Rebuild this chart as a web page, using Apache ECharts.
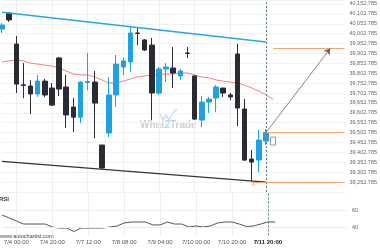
<!DOCTYPE html>
<html><head><meta charset="utf-8">
<script src="https://cdn.jsdelivr.net/npm/echarts@6.0.0/dist/echarts.min.js"></script>
<style>html,body{margin:0;padding:0;background:#fff}#c{width:380px;height:250px}</style>
</head><body><div id="c"></div>
<script>
const categories = ["7/3 16:00","7/3 20:00","7/4 00:00","7/4 04:00","7/4 08:00","7/4 12:00","7/4 16:00","7/4 20:00",
"7/5 00:00","7/5 04:00","7/7 04:00","7/7 08:00","7/7 12:00","7/7 16:00","7/7 20:00","7/8 00:00","7/8 04:00","7/8 08:00",
"7/8 12:00","7/8 16:00","7/8 20:00","7/9 00:00","7/9 04:00","7/9 08:00","7/9 12:00","7/9 16:00","7/9 20:00","7/10 00:00",
"7/10 04:00","7/10 08:00","7/10 12:00","7/10 16:00","7/10 20:00","7/11 04:00","7/11 08:00","7/11 12:00","7/11 16:00","7/11 20:00",
"7/12 00:00","7/12 04:00","7/12 08:00","7/12 12:00","7/12 16:00","7/12 20:00","7/15 00:00","7/15 04:00","7/15 08:00","7/15 12:00","7/15 16:00"];
const shownLabels = [2,7,12,17,22,27,32,37];
const currentIndex = 37;
const opens  = [40026,40107,39950,39744,39738,39698,39763,39728,39880,39733,39632,39581,39756,39758,39440,39501,39693,39834,39860,40006,39971,39945,39703,39824,39829,39789,39905,39789,39566,39657,39678,39728,39693,39900,39622,39369,39364,39460];
const closes = [40046,40072,39748,39741,39698,39763,39693,39642,39723,39592,39581,39758,39761,39652,39324,39693,39849,39865,40006,40004,39920,39703,39824,39834,39804,39814,39903,39571,39657,39672,39733,39703,39683,39627,39364,39354,39465,39502.785];
const lows   = [40006,40062,39703,39677,39597,39683,39683,39637,39688,39526,39506,39551,39718,39475,39319,39480,39632,39794,39809,39945,39915,39566,39693,39758,39728,39768,39880,39566,39531,39602,39607,39683,39667,39536,39359,39258,39303,39440];
const highs  = [40057,40112,39991,39854,39768,39794,39774,39753,39885,39794,39678,39763,39905,39814,39440,39784,39895,39880,40036,40031,39976,39981,39834,39854,39935,39824,39935,39794,39688,39683,39743,39728,39703,39951,39672,39415,39516,39521];
const projected = {index: 38, open: 39480, close: 39440, low: 39440, high: 39480};
const maValues = [39860,39865,39870,39865,39854,39849,39844,39839,39829,39814,39799,39794,39794,39784,39769,39753,39753,39763,39774,39784,39789,39794,39794,39799,39799,39804,39804,39794,39784,39779,39769,39763,39758,39753,39743,39728,39713,39693,39672];
const rsiValues = [54.1,50.6,47.1,43.5,43.5,43.5,43.5,40.0,38.8,38.8,34.7,38.8,38.8,38.8,38.8,40.0,41.2,44.7,45.9,45.9,45.9,42.4,42.4,45.9,43.5,43.5,40.0,41.2,40.0,41.2,44.7,45.9,45.9,43.5,40.6,41.2,43.5,45.9,45.9];
const upperTrend = [[0,40111],[37,39961]];
const lowerTrend = [[0,39358],[37,39253]];
const targetLevel = 39928, lastClose = 39502.785, supportLevel = 39252.785;
const targetIndex = 46, lastCatIndex = 48;
const rsiLevels = [40, 60];

const candleData = opens.map((o,i)=>[o, closes[i], lows[i], highs[i]]);
const projData = categories.map((c,i)=> i===projected.index ? [projected.open,projected.close,projected.low,projected.high] : '-');
const fmtPrice = v => {
  const s = Math.round((v - 2.785)/50)*50 + 2.785;
  return s.toLocaleString('en-US',{minimumFractionDigits:3,maximumFractionDigits:3});
};
const labelFn = (i) => shownLabels.indexOf(i) >= 0;
const chart = echarts.init(document.getElementById('c'), null, {renderer:'canvas'});
const orange = '#f7a26a';
chart.setOption({
  animation:false,
  backgroundColor:'#fff',
  grid:[{left:2,right:33,top:0,height:192},{left:2,right:33,top:193,height:42.5}],
  xAxis:[
    {type:'category',gridIndex:0,data:categories,boundaryGap:false,axisLine:{show:false},axisTick:{show:false},axisLabel:{show:false},
     splitLine:{show:true,interval:labelFn,lineStyle:{color:'#eeeeee',width:1}}},
    {type:'category',gridIndex:1,data:categories,boundaryGap:false,axisLine:{show:false},axisTick:{show:false},
     axisLabel:{show:true,interval:labelFn,fontSize:6,color:'#555',margin:4,fontFamily:'Liberation Sans, Arial',
       formatter:(v,i)=> i===currentIndex ? '{b|'+v+'}' : v,
       rich:{b:{fontWeight:'bold',color:'#222',fontSize:6,fontFamily:'Liberation Sans, Arial'}}},
     splitLine:{show:true,interval:labelFn,lineStyle:{color:'#eeeeee',width:1}}}
  ],
  yAxis:[
    {type:'value',gridIndex:0,position:'right',min:39202.785,max:40172.785,interval:50,
     axisLine:{show:false},axisTick:{show:false},
     axisLabel:{fontSize:5.5,color:'#666',margin:5,formatter:fmtPrice,showMinLabel:false,showMaxLabel:false,fontFamily:'Liberation Sans, Arial'},
     splitLine:{show:true,lineStyle:{color:'#f1f1f1',width:1}}},
    {type:'value',gridIndex:1,position:'right',min:30,max:80,interval:10,
     axisLine:{show:false},axisTick:{show:false},
     axisLabel:{fontSize:5.5,color:'#666',margin:5,fontFamily:'Liberation Sans, Arial',formatter:v=> rsiLevels.indexOf(v)>=0 ? String(v) : ''},
     splitLine:{show:false}}
  ],
  series:[
    {type:'line',xAxisIndex:0,yAxisIndex:0,data:maValues,showSymbol:false,symbol:'none',lineStyle:{color:'#f26b6b',width:1,opacity:0.85},z:1},
    {type:'candlestick',xAxisIndex:0,yAxisIndex:0,data:candleData,barWidth:5,z:3,
     itemStyle:{color:'#1fa2df',color0:'#2b2b33',borderColor:'#1fa2df',borderColor0:'#2b2b33',borderWidth:1},
     markLine:{silent:true,animation:false,symbol:'none',label:{show:false},
       data:[
         [{coord:upperTrend[0],lineStyle:{color:'#2aa8e0',width:1.5,type:'solid'}},{coord:upperTrend[1]}],
         [{coord:lowerTrend[0],lineStyle:{color:'#333',width:1.3,type:'solid'}},{coord:lowerTrend[1]}],
         [{coord:[38,targetLevel],lineStyle:{color:orange,width:1,type:'solid'}},{coord:[lastCatIndex,targetLevel]}],
         [{coord:[currentIndex,lastClose],lineStyle:{color:orange,width:1,type:'solid'}},{coord:[lastCatIndex,lastClose]}],
         [{coord:[35,supportLevel],lineStyle:{color:orange,width:1,type:'solid'}},{coord:[lastCatIndex,supportLevel]}],
         [{coord:[currentIndex,lastClose],symbol:'none',lineStyle:{color:'#666',width:0.8,type:'solid'}},{coord:[targetIndex,targetLevel],symbol:'arrow',symbolSize:6}],
         {xAxis:currentIndex,lineStyle:{color:'#5d7f88',width:1,type:[2,2]}}
       ]}},
    {type:'candlestick',xAxisIndex:0,yAxisIndex:0,data:projData,barWidth:5,z:3,
     itemStyle:{color:'#fff',color0:'#fff',borderColor:'#999',borderColor0:'#999',borderWidth:1}},
    {type:'line',xAxisIndex:1,yAxisIndex:1,data:rsiValues,showSymbol:false,symbol:'none',lineStyle:{color:'#555',width:1},
     markLine:{silent:true,animation:false,symbol:'none',label:{show:false},
       data:[
         {yAxis:rsiLevels[0],lineStyle:{color:'#eeeeee',width:1,type:'solid'}},
         {yAxis:rsiLevels[1],lineStyle:{color:'#eeeeee',width:1,type:'solid'}},
         {xAxis:currentIndex,lineStyle:{color:'#5d7f88',width:1,type:[2,2]}}
       ]}}
  ],
  graphic:[
    {type:'polyline',silent:true,shape:{points:[[160,114],[163,120],[166,115],[169,120],[173,113],[177,109]]},style:{stroke:'#bfe1f4',lineWidth:1.5,fill:null}},
    {type:'text',silent:true,x:140,y:125,style:{text:'{a|What}{b|2}{a|Trade}',verticalAlign:'middle',
      rich:{a:{fill:'#cfcfcf',fontSize:10,fontWeight:'bold',fontFamily:'Liberation Sans, Arial'},b:{fill:'#a9d8f2',fontSize:10,fontWeight:'bold',fontFamily:'Liberation Sans, Arial'}}}},
    {type:'text',silent:true,x:-1,y:199,style:{text:'RSI',fontSize:6,fontWeight:'bold',fill:'#333',verticalAlign:'middle',fontFamily:'Liberation Sans, Arial'}},
    {type:'text',silent:true,x:0,y:236,style:{text:'www.autochartist.com',fontSize:5.5,fill:'#444',verticalAlign:'middle',fontFamily:'Liberation Sans, Arial'}},
    {type:'text',silent:true,x:252,y:185,style:{text:'A',fontSize:5,fill:'#f0a070',verticalAlign:'middle',fontFamily:'Liberation Sans, Arial'}}
  ]
});
</script></body></html>
